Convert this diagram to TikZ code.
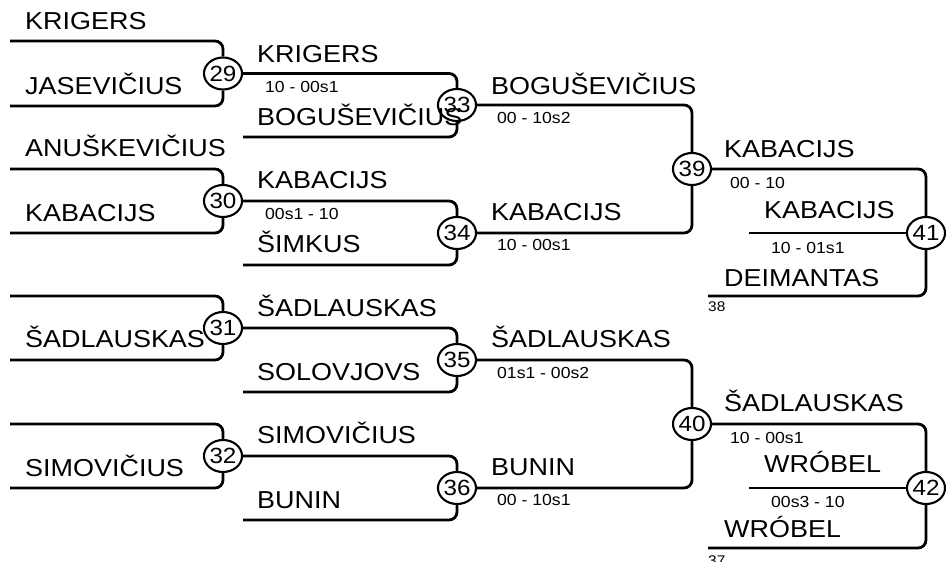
\documentclass[tikz,border=0pt]{standalone}
\usepackage{fontspec}
\setmainfont{Liberation Sans}[FakeStretch=1.1]
\usetikzlibrary{shapes.geometric}
\tikzset{
  br/.style={line width=2.8pt, rounded corners=8pt},
  mno/.style={draw, ellipse, line width=2.1pt, minimum width=35pt, minimum height=32pt, inner sep=0pt, font=\fontsize{22}{22}\selectfont},
  plr/.style={anchor=base west, inner sep=0pt, font=\fontsize{24.5}{24.5}\selectfont},
  res/.style={anchor=base west, inner sep=0pt, font=\fontsize{16}{16}\selectfont},
  src/.style={anchor=base west, inner sep=0pt, font=\fontsize{14}{14}\selectfont}}
\begin{document}
\begin{tikzpicture}[x=1pt, y=-1pt]
\useasboundingbox (0,0) rectangle (946,562);
% match circles
\foreach \n/\x/\y in {29/223/73.5, 30/223/201, 31/223/328, 32/223/456,
    33/457/105, 34/457/233, 35/457/360, 36/457/488,
    39/692/169, 40/692/424, 41/926/233, 42/926/488}
  \node[mno] (m\n) at (\x,\y) {\n};
% free line ends
\foreach \c/\x/\y in {a29/10/41, b29/10/106, a30/10/169, b30/10/233,
    a31/10/296, b31/10/360, a32/10/424, b32/10/488,
    b33/243/137, b34/243/265, b35/243/392, b36/243/520,
    b41/749/233, c41/708/296, b42/749/488, c42/708/548}
  \coordinate (\c) at (\x,\y);
% brackets
\foreach \m in {29,...,32} {
  \draw[br] (a\m) -| (m\m);
  \draw[br] (b\m) -| (m\m);}
\foreach \m in {33,...,36}
  \draw[br] (b\m) -| (m\m);
\foreach \f/\t in {29/33, 30/34, 31/35, 32/36, 33/39, 34/39, 35/40, 36/40, 39/41, 40/42}
  \draw[br] (m\f) -| (m\t);
\draw[br] (b41) -- (m41);
\draw[br] (c41) -| (m41);
\draw[br] (b42) -- (m42);
\draw[br] (c42) -| (m42);
% players
\foreach \x/\y/\t [count=\i] in {25/30/KRIGERS, 25/94/JASEVIČIUS, 25/156/ANUŠKEVIČIUS, 25/221/KABACIJS,
    25/347/ŠADLAUSKAS, 25/476/SIMOVIČIUS,
    257/62/KRIGERS, 257/125/BOGUŠEVIČIUS, 257/188/KABACIJS, 257/252/ŠIMKUS,
    257/316/ŠADLAUSKAS, 257/380/SOLOVJOVS, 257/443/SIMOVIČIUS, 257/508/BUNIN,
    491/94/BOGUŠEVIČIUS, 491/220/KABACIJS, 491/347/ŠADLAUSKAS, 491/475/BUNIN,
    724/157/KABACIJS, 764/218/KABACIJS, 724/286/DEIMANTAS,
    724/411/ŠADLAUSKAS, 764/472/WRÓBEL, 724/537/WRÓBEL}
  \node[plr] (p\i) at (\x,\y) {\t};
% scores
\foreach \x/\y/\t [count=\i] in {265/92/10 - 00s1, 265/219/00s1 - 10,
    497/123/00 - 10s2, 497/250/10 - 00s1, 497/378/01s1 - 00s2, 497/505/00 - 10s1,
    730/188/00 - 10, 771/253/10 - 01s1, 730/443/10 - 00s1, 771/507/00s3 - 10}
  \node[res] (s\i) at (\x,\y) {\t};
% source matches
\node[src] (r38) at (708,311) {38};
\node[src] (r37) at (708,565) {37};
\end{tikzpicture}
\end{document}
